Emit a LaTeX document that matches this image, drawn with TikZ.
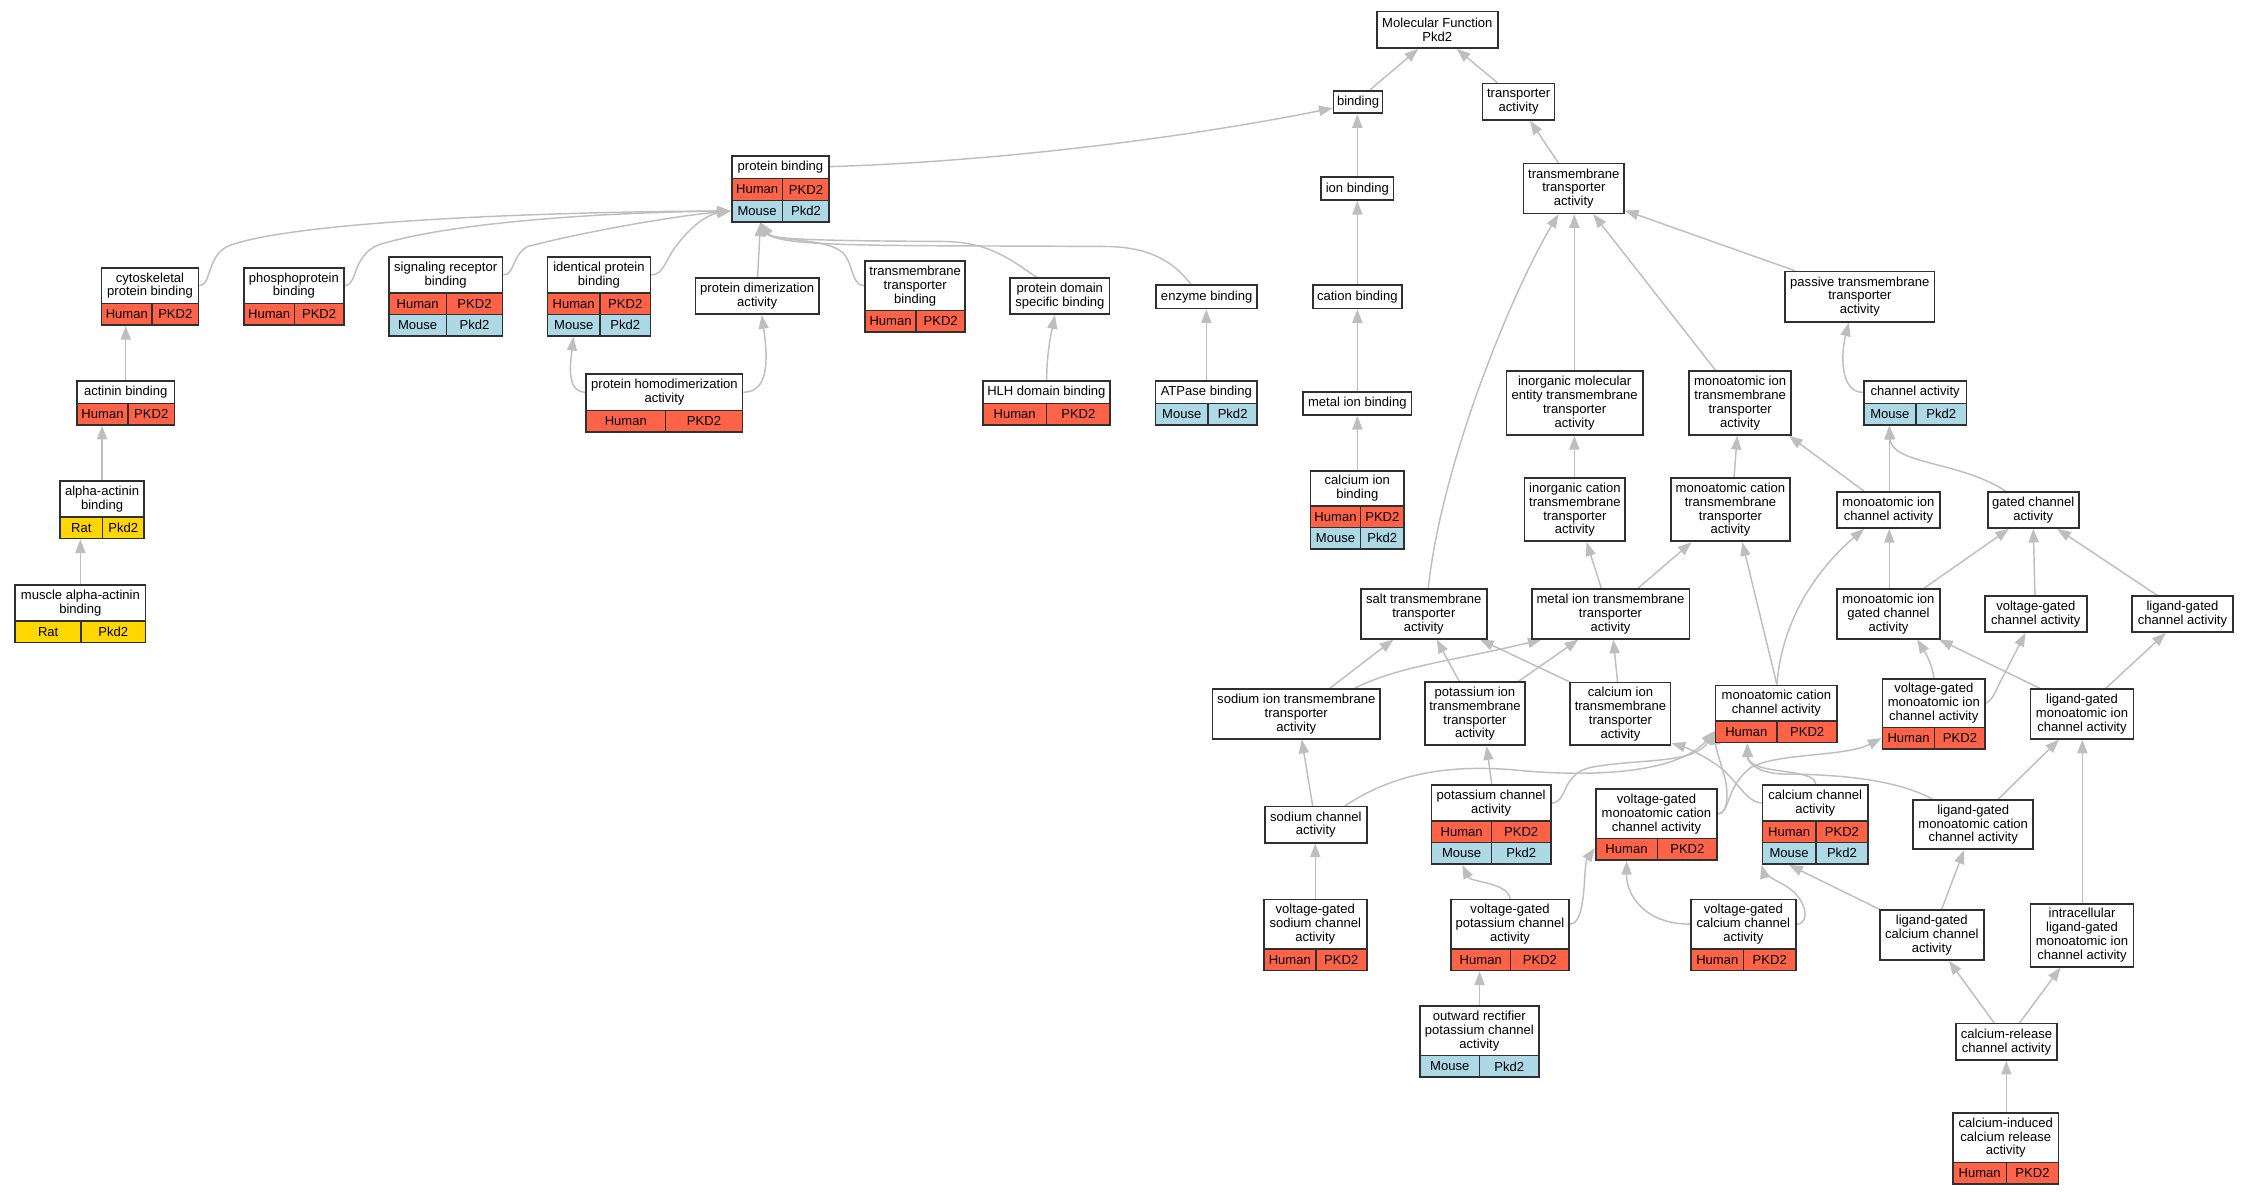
\documentclass[tikz,border=0pt]{standalone}
\usepackage{fontspec}
\setmainfont{Liberation Sans}
\usetikzlibrary{arrows.meta,backgrounds}
\definecolor{edgec}{HTML}{BEBEBE}
\definecolor{boxc}{HTML}{303030}
\definecolor{rowch}{HTML}{FF6347}
\definecolor{rowcm}{HTML}{ADD8E6}
\definecolor{rowcr}{HTML}{FFD700}
\def\rowAh{Human}\def\rowBh{PKD2}
\def\rowAm{Mouse}\def\rowBm{Pkd2}
\def\rowAr{Rat}\def\rowBr{Pkd2}
\def\rh{14.9}
\tikzset{
  pbx/.style={draw=boxc, line width=1.2pt, fill=white, align=center, inner sep=0pt},
  ttl/.style={draw=boxc, line width=1pt, fill=white, align=center, inner sep=0pt},
  frm/.style={draw=boxc, line width=1.2pt, inner sep=0pt},
  rowline/.style={draw=boxc, line width=1pt},
  cell/.style={inner sep=0pt},
  lnk/.style={draw=edgec, line width=1pt, -{Triangle[length=9.5pt,width=7pt]}}
}
% plain box: name x1 y1 x2 y2 text
\newcommand{\pbox}[6]{%
  \node[pbx, minimum width={#4-#2}, minimum height={#5-#3}] (#1) at ({(#2+#4)/2},{(#3+#5)/2}) {#6};}
% table box: name x1 y1 x2 ytitle xsplit title rows
\newcommand{\tbox}[8]{%
  \node[ttl, minimum width={#4-#2}, minimum height={#5-#3}] (#1-t) at ({(#2+#4)/2},{(#3+#5)/2}) {#7};
  \foreach \k [count=\i] in {#8}{%
    \draw[rowline, fill=rowc\k] ({#2},{#5+(\i-1)*\rh}) rectangle ({#6},{#5+\i*\rh});
    \draw[rowline, fill=rowc\k] ({#6},{#5+(\i-1)*\rh}) rectangle ({#4},{#5+\i*\rh});
    \node[cell] (#1-\i-a) at ({(#2+#6)/2},{#5+(\i-0.5)*\rh}) {\csname rowA\k\endcsname};
    \node[cell] (#1-\i-b) at ({(#6+#4)/2},{#5+(\i-0.5)*\rh}) {\csname rowB\k\endcsname};
    \xdef\nrows{\i}%
  }%
  \node[frm, minimum width={#4-#2}, minimum height={#5+\nrows*\rh-#3}] (#1) at ({(#2+#4)/2},{(#3+#5+\nrows*\rh)/2}) {};
}
\begin{document}
\begin{tikzpicture}[x=1pt, y=-1pt, font=\fontsize{9.05}{9.6}\selectfont]
\useasboundingbox (0,0) rectangle (1560,829);
% ---------- nodes ----------
\pbox{mf}{955}{8}{1039}{33.3}{Molecular Function\\Pkd2}
\pbox{bind}{925}{62.9}{959}{78.6}{binding}
\pbox{tra}{1028.4}{58}{1078.3}{83.2}{transporter\\activity}
\tbox{pb}{507.5}{108}{575.2}{124}{542.9}{protein binding}{h,m}
\pbox{ionb}{916.5}{123}{966.5}{138.7}{ion binding}
\pbox{tta}{1056.8}{113.5}{1126.5}{148}{transmembrane\\transporter\\activity}
\tbox{cyto}{70.4}{185.7}{137.7}{210.6}{105.5}{cytoskeletal\\protein binding}{h}
\tbox{phos}{169.2}{185.7}{238.5}{210.6}{204.2}{phosphoprotein\\binding}{h}
\tbox{sig}{269.7}{178.3}{348.6}{203.2}{309.7}{signaling receptor\\binding}{h,m}
\tbox{ipb}{379.7}{178.3}{451.2}{203.2}{416.2}{identical protein\\binding}{h,m}
\pbox{pdim}{482.5}{193}{567.9}{218}{protein dimerization\\activity}
\tbox{ttb}{600}{181}{669.6}{215.5}{635.4}{transmembrane\\transporter\\binding}{h}
\pbox{pds}{700.8}{193}{769.5}{218}{protein domain\\specific binding}
\pbox{enz}{802}{197.7}{872}{213.9}{enzyme binding}
\pbox{catb}{910.5}{197.7}{972.5}{213.9}{cation binding}
\pbox{pass}{1238.3}{188.4}{1341.8}{223.1}{passive transmembrane\\transporter\\activity}
\tbox{act}{53.4}{264.3}{121}{279.8}{88.8}{actinin binding}{h}
\tbox{phd}{406.7}{259.6}{515.1}{284.6}{461.5}{protein homodimerization\\activity}{h}
\tbox{hlh}{681.6}{264.5}{770}{279.8}{726}{HLH domain binding}{h}
\tbox{atp}{801.5}{264.5}{872}{279.8}{838}{ATPase binding}{m}
\pbox{metb}{904}{271.7}{979}{287.9}{metal ion binding}
\pbox{imol}{1044.9}{257.5}{1139.5}{301.7}{inorganic molecular\\entity transmembrane\\transporter\\activity}
\pbox{mit}{1171.5}{257.5}{1242.5}{301.7}{monoatomic ion\\transmembrane\\transporter\\activity}
\tbox{cha}{1292.7}{264.5}{1364.1}{279.8}{1329}{channel activity}{m}
\tbox{aact}{41.8}{333.6}{99.8}{358.6}{71.1}{alpha-actinin\\binding}{r}
\tbox{cib}{909}{326.5}{974}{351}{943.7}{calcium ion\\binding}{h,m}
\pbox{icat}{1057.4}{331.8}{1127.4}{375.5}{inorganic cation\\transmembrane\\transporter\\activity}
\pbox{mct}{1159}{331.8}{1241.6}{375.5}{monoatomic cation\\transmembrane\\transporter\\activity}
\pbox{mic}{1274.2}{341.3}{1345.6}{366.2}{monoatomic ion\\channel activity}
\pbox{gca}{1378.7}{341.3}{1441.9}{366.2}{gated channel\\activity}
\tbox{maab}{10.6}{405.8}{100.9}{430.7}{56.3}{muscle alpha-actinin\\binding}{r}
\pbox{salt}{944}{408.6}{1031.2}{443}{salt transmembrane\\transporter\\activity}
\pbox{mitr}{1062.4}{408.6}{1171.8}{443}{metal ion transmembrane\\transporter\\activity}
\pbox{migc}{1274.2}{408.6}{1345.6}{443}{monoatomic ion\\gated channel\\activity}
\pbox{vgc}{1376.8}{413.4}{1447.4}{438.4}{voltage-gated\\channel activity}
\pbox{lgc}{1478.6}{413.4}{1549.1}{438.4}{ligand-gated\\channel activity}
\pbox{sit}{841.1}{477.9}{957.2}{512.4}{sodium ion transmembrane\\transporter\\activity}
\pbox{pit}{988.4}{473.3}{1057.8}{517}{potassium ion\\transmembrane\\transporter\\activity}
\pbox{cit}{1089.2}{473.5}{1158.8}{517}{calcium ion\\transmembrane\\transporter\\activity}
\tbox{mcc}{1190}{475.4}{1274.4}{500.1}{1232.6}{monoatomic cation\\channel activity}{h}
\tbox{vgmi}{1305.7}{470.8}{1377}{504.7}{1342}{voltage-gated\\monoatomic ion\\channel activity}{h}
\pbox{lgmi}{1408.5}{478.1}{1479.8}{512.4}{ligand-gated\\monoatomic ion\\channel activity}
\pbox{sc}{877.4}{559.5}{948}{584.5}{sodium channel\\activity}
\tbox{pc}{993}{544.5}{1075.6}{569.5}{1034.7}{potassium channel\\activity}{h,m}
\tbox{vgmc}{1106.8}{547.3}{1191.2}{581.7}{1149.6}{voltage-gated\\monoatomic cation\\channel activity}{h}
\tbox{cc}{1222.5}{544.5}{1295.7}{569.5}{1259.5}{calcium channel\\activity}{h,m}
\pbox{lgmc}{1327.1}{554.9}{1410.3}{589.1}{ligand-gated\\monoatomic cation\\channel activity}
\tbox{vgsc}{876.6}{624}{948}{658.3}{912.7}{voltage-gated\\sodium channel\\activity}{h}
\tbox{vgpc}{1006.4}{624}{1088.4}{658.3}{1047.8}{voltage-gated\\potassium channel\\activity}{h}
\tbox{vgcc}{1172.9}{624}{1245.6}{658.3}{1209.5}{voltage-gated\\calcium channel\\activity}{h}
\pbox{lgcc}{1303.8}{631.4}{1376.2}{665.9}{ligand-gated\\calcium channel\\activity}
\pbox{ilg}{1408.5}{627}{1479.8}{670.5}{intracellular\\ligand-gated\\monoatomic ion\\channel activity}
\tbox{orp}{984.9}{698}{1067.4}{732.3}{1026.3}{outward rectifier\\potassium channel\\activity}{m}
\pbox{crc}{1356.5}{710}{1427}{735.2}{calcium-release\\channel activity}
\tbox{cic}{1354.6}{772}{1427.9}{806.2}{1391.7}{calcium-induced\\calcium release\\activity}{h}
% ---------- connectors ----------
\begin{scope}[on background layer]
\fill[white] (0,0) rectangle (1560,829);
\draw[lnk] (bind.north -| 950.3,0) -- (mf.south -| 983.8,0);
\draw[lnk] (tra.north -| 1038.6,0) -- (mf.south -| 1010.4,0);
\draw[lnk] (pb.east |- 0,115.6) .. controls (690,112) and (820,96) .. (bind.west |- 0,75);
\draw[lnk] (ionb.north) -- (bind.south -| ionb.north);
\draw[lnk] (tta.north -| 1080.9,0) -- (tra.south -| 1061.3,0);
\draw[lnk] (catb.north) -- (ionb.south -| catb.north);
\draw[lnk] (metb.north) -- (catb.south -| metb.north);
\draw[lnk] (cib.north) -- (metb.south -| cib.north);
% into protein binding
\draw[lnk] (cyto.east |- 0,198.2) .. controls (147,198.2) and (143,176) .. (160,170) .. controls (215,151) and (420,146.5) .. (pb.west |- 0,146.4);
\draw[lnk] (phos.east |- 0,198.2) .. controls (248,198.2) and (244,178) .. (262,170) .. controls (320,152) and (440,147) .. (pb.west |- 0,146.4);
\draw[lnk] (sig.east |- 0,190.7) .. controls (357,190.7) and (355,177) .. (366,171) .. controls (400,162) and (465,150) .. (pb.west |- 0,146.4);
\draw[lnk] (ipb.east |- 0,190.7) .. controls (460,190.7) and (462,180) .. (468,172) .. controls (478,158) and (490,149) .. (pb.west |- 0,146.4);
\draw[lnk] (pdim.north -| 525.5,0) -- (pb.south -| 527.5,0);
\draw[lnk] (ttb.west |- 0,198.2) .. controls (590,198.2) and (592,180) .. (583,174) .. controls (570,165) and (535,167) .. (pb.south -| 527.5,0);
\draw[lnk] (pds.north -| 719,0) .. controls (700,179) and (685,168) .. (655,167.5) .. controls (565,167) and (535,166) .. (pb.south -| 527.5,0);
\draw[lnk] (enz.north -| 826,0) .. controls (815,183) and (800,172) .. (770,171) .. controls (620,170) and (540,172) .. (pb.south -| 527.5,0);
\draw[lnk] (act.north) -- (cyto.south -| act.north);
\draw[lnk] (aact.north) -- (act.south -| aact.north);
\draw[lnk] (maab.north) -- (aact.south -| maab.north);
\draw[lnk] (phd.west |- 0,272.1) .. controls (392,272) and (396,250) .. (ipb.south -| 397.7,0);
\draw[lnk] (phd.east |- 0,272.1) .. controls (533,272) and (533,250) .. (pdim.south -| 528.3,0);
\draw[lnk] (hlh.north -| 726,0) .. controls (726,245) and (729,232) .. (pds.south -| 731.8,0);
\draw[lnk] (atp.north) -- (enz.south -| atp.north);
% transporter part
\draw[lnk] (salt.north -| 990.7,0) .. controls (1000,320) and (1050,200) .. (tta.south -| 1081,0);
\draw[lnk] (imol.north -| 1092,0) -- (tta.south -| 1092,0);
\draw[lnk] (mit.north -| 1190,0) -- (tta.south -| 1105.2,0);
\draw[lnk] (pass.north -| 1245.1,0) -- (tta.east |- 0,146);
\draw[lnk] (cha.west |- 0,272.2) .. controls (1276,272) and (1277,245) .. (pass.south -| 1282.4,0);
\draw[lnk] (icat.north -| 1092,0) -- (imol.south -| 1092,0);
\draw[lnk] (mct.north -| 1202.8,0) -- (mit.south -| 1205,0);
\draw[lnk] (mic.north -| 1293,0) -- (mit.south -| 1240.9,0);
\draw[lnk] (mic.north -| 1310.5,0) -- (cha.south -| 1310.5,0);
\draw[lnk] (gca.north -| 1391.2,0) .. controls (1360,320) and (1312,322) .. (cha.south -| 1310.5,0);
\draw[lnk] (mitr.north -| 1110.7,0) -- (icat.south -| 1100.5,0);
\draw[lnk] (mitr.north -| 1136.2,0) -- (mct.south -| 1173.3,0);
\draw[lnk] (mcc.north -| 1232.5,0) -- (mct.south -| 1208.5,0);
\draw[lnk] (mcc.north -| 1232.5,0) .. controls (1236,430) and (1260,395) .. (mic.south -| 1293,0);
\draw[lnk] (migc.north -| 1310.5,0) -- (mic.south -| 1310.5,0);
\draw[lnk] (migc.north -| 1334.6,0) -- (gca.south -| 1393.5,0);
\draw[lnk] (vgc.north -| 1411.5,0) -- (gca.south -| 1410.4,0);
\draw[lnk] (lgc.north -| 1496,0) -- (gca.south -| 1427,0);
\draw[lnk] (sit.north -| 922.5,0) -- (salt.south -| 966.5,0);
\draw[lnk] (sit.north -| 939.9,0) .. controls (970,462) and (1010,458) .. (mitr.south -| 1069.4,0);
\draw[lnk] (pit.north -| 1012.2,0) -- (salt.south -| 996.5,0);
\draw[lnk] (pit.north -| 1053.2,0) -- (mitr.south -| 1094.8,0);
\draw[lnk] (cit.north west) -- (salt.south -| 1026.6,0);
\draw[lnk] (cit.north -| 1122,0) -- (mitr.south -| 1119,0);
\draw[lnk] (sc.north -| 910.5,0) -- (sit.south -| 902.9,0);
\draw[lnk] (sc.north -| 932.9,0) .. controls (965,538) and (1000,530) .. (1050,534) .. controls (1110,540) and (1165,535) .. (mcc.west |- 0,507);
\draw[lnk] (pc.east |- 0,557) .. controls (1088,557) and (1082,536) .. (1105,532) .. controls (1140,526) and (1175,530) .. (mcc.west |- 0,507);
\draw[lnk] (vgmc.east |- 0,564.5) .. controls (1199,564.5) and (1199,548) .. (1196,538) .. controls (1193,528) and (1190,518) .. (mcc.west |- 0,507);
\draw[lnk] (vgmc.east |- 0,564.5) .. controls (1200,564.5) and (1197,545) .. (1215,532) .. controls (1235,522) and (1280,525) .. (vgmi.west |- 0,512);
\draw[lnk] (pc.north -| 1034.7,0) -- (pit.south -| 1031.2,0);
\draw[lnk] (cc.north -| 1259.4,0) .. controls (1259,532) and (1213,538) .. (mcc.south -| 1212,0);
\draw[lnk] (lgmc.north -| 1340.3,0) .. controls (1315,540) and (1270,537) .. (1240,537) .. controls (1218,537) and (1212,528) .. (mcc.south -| 1212,0);
\draw[lnk] (cc.west |- 0,557) .. controls (1210,556) and (1205,540) .. (1190,530) .. controls (1178,522) and (1168,518) .. (cit.east |- 0,515.5);
\draw[lnk] (vgmi.north -| 1341.5,0) .. controls (1340,460) and (1335,452) .. (migc.south -| 1329.9,0);
\draw[lnk] (vgmi.east |- 0,487.8) .. controls (1383,485) and (1385,477) .. (1389,470) -- (vgc.south -| 1405,0);
\draw[lnk] (lgmi.north -| 1415,0) -- (migc.south -| 1345,0);
\draw[lnk] (lgmi.north -| 1460.6,0) -- (lgc.south -| 1502.2,0);
\draw[lnk] (vgsc.north) -- (sc.south -| vgsc.north);
\draw[lnk] (vgpc.north -| 1047.5,0) .. controls (1046,612) and (1020,612) .. (pc.south -| 1014.4,0);
\draw[lnk] (vgpc.east |- 0,641) .. controls (1101,641) and (1098,600) .. (vgmc.west |- 0,588.2);
\draw[lnk] (vgcc.west |- 0,641) .. controls (1140,641) and (1128,620) .. (vgmc.south -| 1128.3,0);
\draw[lnk] (vgcc.east |- 0,641) .. controls (1256,641) and (1254,622) .. (1236,613) .. controls (1226,608) and (1223,604) .. (cc.south west);
\draw[lnk] (lgcc.north -| 1303.8,0) -- (cc.south -| 1240.9,0);
\draw[lnk] (lgcc.north -| 1346.8,0) -- (lgmc.south -| 1362.3,0);
\draw[lnk] (lgmc.north -| 1386.1,0) -- (lgmi.south -| 1428.2,0);
\draw[lnk] (ilg.north -| 1444.4,0) -- (lgmi.south -| 1444.4,0);
\draw[lnk] (crc.north -| 1383.1,0) -- (lgcc.south -| 1351.9,0);
\draw[lnk] (crc.north -| 1400.9,0) -- (ilg.south -| 1429.3,0);
\draw[lnk] (cic.north -| 1391.7,0) -- (crc.south -| 1391.7,0);
\draw[lnk] (orp.north -| 1026.3,0) -- (vgpc.south -| 1026.3,0);
\end{scope}
\end{tikzpicture}
\end{document}
